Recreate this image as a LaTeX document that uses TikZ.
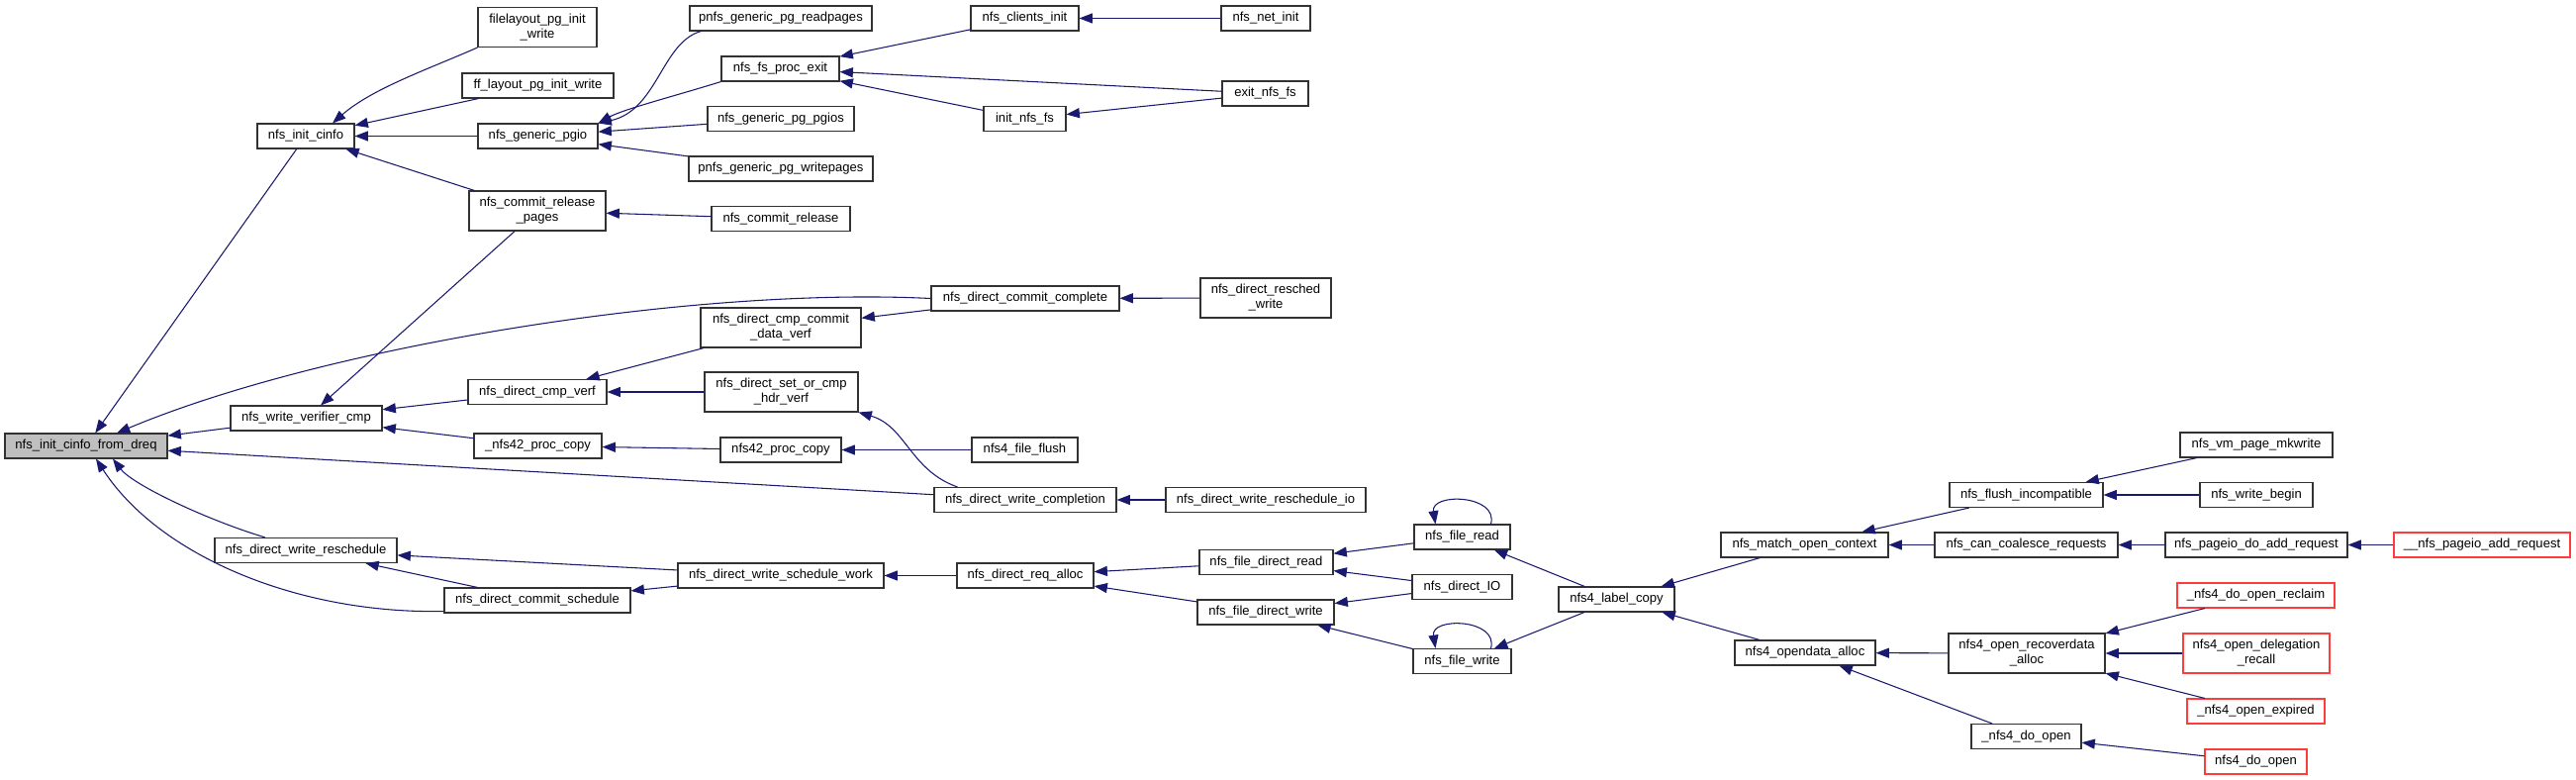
\documentclass[tikz,border=0pt]{standalone}
\usepackage{fontspec}
\setmainfont{Liberation Sans}
\usetikzlibrary{arrows.meta,calc}
\definecolor{dblue}{RGB}{25,25,112}
\definecolor{truncred}{RGB}{255,60,60}
\definecolor{boxgrey}{RGB}{191,191,191}
\definecolor{boxline}{RGB}{50,50,50}
\tikzset{
  fn/.style={draw=boxline, line width=0.8pt, fill=white,
    font=\fontsize{9.8}{11.2}\selectfont, inner xsep=1pt, inner ysep=1pt,
    minimum height=18.75pt, align=center},
  two/.style={minimum height=30pt},
  bw/.style={minimum width=#1*0.75pt},
  trunc/.style={draw=truncred},
  root/.style={fill=boxgrey},
  edge/.style={draw=dblue, line width=0.8pt,
    -{Triangle[length=10pt,width=7.5pt,fill=dblue]}},
}
\begin{document}
\begin{tikzpicture}[x=0.75pt,y=-0.75pt]
\useasboundingbox (0,0) rectangle (2603,788);
\fill[white] (0,0) rectangle (2603,788);

% column 0/1
\node[fn,root,bw=164] (dreq) at (87,450.5) {nfs\_init\_cinfo\_from\_dreq};
\node[fn,bw=98] (cinfo) at (309,137.5) {nfs\_init\_cinfo};
\node[fn,bw=153] (wvc) at (309.5,422.5) {nfs\_write\_verifier\_cmp};
\node[fn,bw=184] (dwr) at (309,556) {nfs\_direct\_write\_reschedule};
% column 2
\node[fn,two,bw=120] (flpg) at (543,27.5) {filelayout\_pg\_init\\\_write};
\node[fn,bw=153] (ffpg) at (543.5,86.5) {ff\_layout\_pg\_init\_write};
\node[fn,bw=121] (gpgio) at (543.5,137.5) {nfs\_generic\_pgio};
\node[fn,two,bw=138] (crp) at (543,213) {nfs\_commit\_release\\\_pages};
\node[fn,bw=140] (dcv) at (543,396) {nfs\_direct\_cmp\_verf};
\node[fn,bw=129] (p42) at (543.5,450.5) {\_nfs42\_proc\_copy};
\node[fn,bw=188] (dcs) at (543,606.5) {nfs\_direct\_commit\_schedule};
% column 3
\node[fn,bw=184] (pgrp) at (789,18.5) {pnfs\_generic\_pg\_readpages};
\node[fn,bw=119] (fspe) at (788.5,69.5) {nfs\_fs\_proc\_exit};
\node[fn,bw=148] (gpgp) at (789,120) {nfs\_generic\_pg\_pgios};
\node[fn,bw=186] (pgwp) at (789,170.5) {pnfs\_generic\_pg\_writepages};
\node[fn,bw=140] (cr) at (789,221) {nfs\_commit\_release};
\node[fn,two,bw=162] (dccdv) at (789,331) {nfs\_direct\_cmp\_commit\\\_data\_verf};
\node[fn,two,bw=155] (dsochv) at (789.5,396) {nfs\_direct\_set\_or\_cmp\\\_hdr\_verf};
\node[fn,bw=122] (n42) at (789,454.5) {nfs42\_proc\_copy};
\node[fn,bw=208] (dwsw) at (789,581.5) {nfs\_direct\_write\_schedule\_work};
% column 4
\node[fn,bw=109] (ci) at (1035.5,18.5) {nfs\_clients\_init};
\node[fn,bw=83] (inf) at (1035.5,120) {init\_nfs\_fs};
\node[fn,bw=190] (dcc) at (1036,301.5) {nfs\_direct\_commit\_complete};
\node[fn,bw=107] (ff) at (1035.5,454.5) {nfs4\_file\_flush};
\node[fn,bw=184] (dwc) at (1036,505) {nfs\_direct\_write\_completion};
\node[fn,bw=138] (dra) at (1036,581.5) {nfs\_direct\_req\_alloc};
% column 5
\node[fn,bw=90] (ni) at (1279,18.5) {nfs\_net\_init};
\node[fn,bw=87] (enf) at (1278.5,94.5) {exit\_nfs\_fs};
\node[fn,two,bw=132] (drw) at (1279,301) {nfs\_direct\_resched\\\_write};
\node[fn,bw=202] (dwrio) at (1279,505) {nfs\_direct\_write\_reschedule\_io};
\node[fn,bw=135] (fdr) at (1279.5,568) {nfs\_file\_direct\_read};
\node[fn,bw=138] (fdw) at (1279,618.5) {nfs\_file\_direct\_write};
% column 6
\node[fn,bw=97] (fr) at (1477.5,542.5) {nfs\_file\_read};
\node[fn,bw=101] (dio) at (1477.5,593) {nfs\_direct\_IO};
\node[fn,bw=99] (fw) at (1477.5,668) {nfs\_file\_write};
% column 7
\node[fn,bw=117] (lc) at (1633.5,605.5) {nfs4\_label\_copy};
% column 8
\node[fn,bw=169] (moc) at (1823.5,550.5) {nfs\_match\_open\_context};
\node[fn,bw=142] (oda) at (1824,659.5) {nfs4\_opendata\_alloc};
% column 9
\node[fn,bw=155] (fi) at (2047.5,500) {nfs\_flush\_incompatible};
\node[fn,bw=185] (ccr) at (2047.5,550.5) {nfs\_can\_coalesce\_requests};
\node[fn,two,bw=158] (orda) at (2048,660) {nfs4\_open\_recoverdata\\\_alloc};
\node[fn,bw=111] (ndo) at (2047.5,744) {\_nfs4\_do\_open};
% column 10
\node[fn,bw=154] (vpm) at (2280,449.5) {nfs\_vm\_page\_mkwrite};
\node[fn,bw=114] (wb) at (2280,500) {nfs\_write\_begin};
\node[fn,bw=184] (pdar) at (2280,550.5) {nfs\_pageio\_do\_add\_request};
\node[fn,trunc,bw=159] (dor) at (2279.5,601.5) {\_nfs4\_do\_open\_reclaim};
\node[fn,trunc,two,bw=148] (odr) at (2280,660) {nfs4\_open\_delegation\\\_recall};
\node[fn,trunc,bw=139] (oe) at (2279.5,718.5) {\_nfs4\_open\_expired};
\node[fn,trunc,bw=103] (dop) at (2279.5,769.5) {nfs4\_do\_open};
% column 11
\node[fn,trunc,bw=178] (npar) at (2508,550.5) {\_\_nfs\_pageio\_add\_request};

% edges (caller -> callee)
\draw[edge] (cinfo) -- (dreq);
\draw[edge] (wvc) -- (dreq);
\draw[edge] (dwc) -- (dreq);
\draw[edge] (dcc.west) .. controls +(-240,-12) and +(210,-88) .. ($(dreq.north)+(31,0)$);
\draw[edge] ($(dwr.north)+(-41,0)$) .. controls +(-60,-18) and +(20,26) .. ($(dreq.south)+(27,0)$);
\draw[edge] ($(dcs.south west)+(0,-2)$) .. controls +(-149,3) and +(63,97) .. ($(dreq.south)+(10,0)$);

\draw[edge] (flpg.south west) .. controls +(-50,22) and +(40,-35) .. ($(cinfo.north)+(27,0)$);
\draw[edge] (ffpg) -- (cinfo);
\draw[edge] (gpgio) -- (cinfo);
\draw[edge] (crp) -- (cinfo);
\draw[edge] (crp) -- (wvc);

\draw[edge] ($(pgrp.south west)+(12,0)$) .. controls +(-40,11) and +(60,-13) .. (gpgio.north east);
\draw[edge] (fspe.south west) .. controls +(-45,14) and +(25,-14) .. (gpgio.north east);
\draw[edge] (gpgp) -- (gpgio);
\draw[edge] (pgwp) -- (gpgio);
\draw[edge] (cr) -- (crp);

\draw[edge] (ci) -- (fspe);
\draw[edge] (enf) -- (fspe);
\draw[edge] (inf) -- (fspe);
\draw[edge] (ni) -- (ci);
\draw[edge] (enf) -- (inf);

\draw[edge] (dcv) -- (wvc);
\draw[edge] (p42) -- (wvc);
\draw[edge] (dccdv) -- (dcv);
\draw[edge] (dsochv) -- (dcv);
\draw[edge] (dcc) -- (dccdv);
\draw[edge] (drw) -- (dcc);
\draw[edge] ($(dwc.north west)+(24,0)$) .. controls +(-48,-17) and +(48,14) .. (dsochv.south east);
\draw[edge] (n42) -- (p42);
\draw[edge] (ff) -- (n42);
\draw[edge] (dwrio) -- (dwc);

\draw[edge] (dwsw) -- (dwr);
\draw[edge] (dcs) -- (dwr);
\draw[edge] (dwsw) -- (dcs);
\draw[edge] (dra) -- (dwsw);
\draw[edge] (fdr) -- (dra);
\draw[edge] (fdw) -- (dra);
\draw[edge] (fr) -- (fdr);
\draw[edge] (dio) -- (fdr);
\draw[edge] (dio) -- (fdw);
\draw[edge] (fw) -- (fdw);
\draw[edge] ($(fr.north)+(29,0)$) .. controls +(8,-30) and +(-5,-32) .. ($(fr.north)+(-27,0)$);
\draw[edge] ($(fw.north)+(29,0)$) .. controls +(8,-30) and +(-5,-32) .. ($(fw.north)+(-27,0)$);
\draw[edge] (lc) -- (fr);
\draw[edge] (lc) -- (fw);
\draw[edge] (moc) -- (lc);
\draw[edge] (oda) -- (lc);
\draw[edge] (fi) -- (moc);
\draw[edge] (ccr) -- (moc);
\draw[edge] (vpm) -- (fi);
\draw[edge] (wb) -- (fi);
\draw[edge] (pdar) -- (ccr);
\draw[edge] (npar) -- (pdar);
\draw[edge] (orda) -- (oda);
\draw[edge] (ndo) -- (oda);
\draw[edge] (dor) -- (orda);
\draw[edge] (odr) -- (orda);
\draw[edge] (oe) -- (orda);
\draw[edge] (dop) -- (ndo);
\end{tikzpicture}
\end{document}
